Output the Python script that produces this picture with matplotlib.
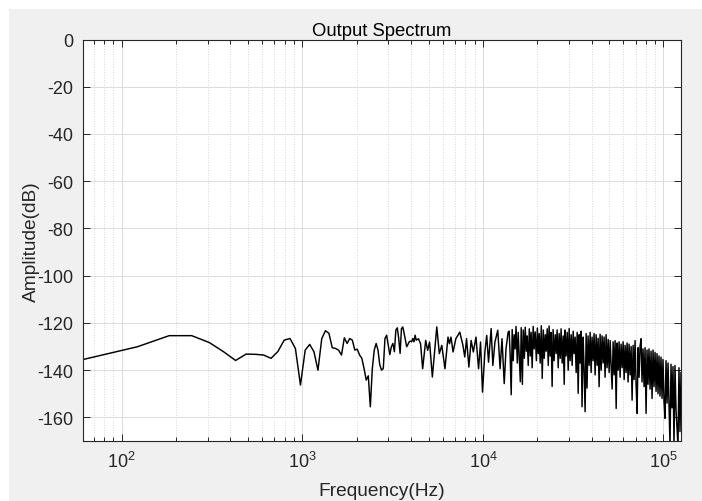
import numpy as np
import matplotlib
matplotlib.use("Agg")
import matplotlib.pyplot as plt
from matplotlib.patches import Rectangle
from matplotlib.ticker import LogLocator, NullFormatter, MultipleLocator

plt.rcParams['font.family'] = ['Liberation Sans', 'DejaVu Sans']
plt.rcParams['mathtext.fontset'] = 'custom'
plt.rcParams['mathtext.rm'] = 'Liberation Sans'
plt.rcParams['axes.unicode_minus'] = False

# FFT set-up: 4096 points at 250 kHz, so bin k sits at k * fs / nfft
fs = 250000.0
nfft = 4096

# bins 1..70, read point by point
bins_low = list(range(1, 71))
amp_low = [-135.5, -130.1, -125.4, -125.4, -128.3, -132.2, -135.9, -133.2, -133.3, -133.6,
           -135.0, -132.1, -127.3, -126.6, -130.8, -146.3, -131.5, -129.1, -132.2, -140.0,
           -126.6, -123.3, -124.4, -130.5, -130.8, -131.5, -133.6, -126.3, -128.7, -126.6,
           -127.3, -131.5, -131.1, -133.6, -135.0, -139.3, -144.2, -142.4, -155.5, -139.3,
           -131.5, -128.7, -131.5, -137.8, -140.0, -139.3, -126.6, -125.2, -129.4, -133.4,
           -130.1, -128.7, -132.2, -123.0, -122.1, -126.6, -132.9, -122.4, -121.7, -124.4,
           -127.3, -130.1, -129.1, -128.0, -127.7, -128.0, -126.6, -128.0, -125.2, -127.3]

# 4.4 kHz .. 14 kHz, turning points only
bins_mid = [72, 74, 76, 79, 81, 83, 86, 91, 94, 97, 101, 105, 107, 109, 112, 116, 122, 127,
            130, 133, 137, 141, 145, 150, 155, 159, 163, 168, 172, 176, 182, 186, 191, 198,
            204, 209, 215, 220, 226]
amp_mid = [-126.7, -128.8, -139.4, -127.4, -131.6, -128.1, -142.9, -121.7, -133.0, -129.5,
           -139.4, -126.0, -128.8, -126.0, -132.3, -126.7, -123.9, -129.5, -134.4, -126.7,
           -138.7, -127.4, -132.3, -126.0, -139.4, -128.1, -149.3, -132.3, -125.3, -136.6,
           -122.4, -138.0, -128.1, -123.1, -139.4, -126.7, -145.7, -130.9, -123.9]

# 14 kHz .. 125 kHz, peaks and troughs of the dense part
bins_high = [229, 232, 235, 238, 241, 244, 247, 250, 254, 257, 260, 264, 267, 271, 274, 278,
             281, 285, 288, 292, 296, 300, 303, 307, 311, 315, 319, 324, 328, 332, 336, 340,
             345, 349, 354, 358, 363, 367, 372, 377, 381, 386, 391, 396, 401, 406, 412, 417,
             422, 428, 433, 439, 444, 450, 456, 462, 467, 473, 480, 486, 492, 498, 505, 511,
             518, 524, 531, 538, 545, 552, 559, 566, 573, 580, 588, 595, 603, 611, 618, 626,
             635, 643, 651, 659, 668, 676, 685, 694, 703, 712, 721, 730, 740, 749, 759, 768,
             778, 788, 798, 809, 819, 830, 840, 851, 862, 873, 884, 896, 907, 919, 930, 942,
             954, 967, 979, 992, 1004, 1017, 1030, 1043, 1056, 1070, 1084, 1098, 1112, 1126,
             1140, 1155, 1170, 1185, 1200, 1215, 1231, 1246, 1262, 1279, 1295, 1312, 1328,
             1345, 1362, 1380, 1398, 1416, 1434, 1452, 1471, 1490, 1509, 1528, 1547, 1567,
             1587, 1608, 1628, 1649, 1670, 1692, 1714, 1736, 1758, 1780, 1803, 1826, 1850,
             1873, 1897, 1922, 1946, 1971, 1996, 2022, 2048]
amp_high = [-123.5, -134.0, -150.4, -122.8, -136.0, -125.0, -131.0, -121.5, -137.0, -124.0,
            -133.0, -144.9, -122.0, -146.0, -123.0, -135.0, -121.8, -132.0, -125.5, -138.0,
            -122.5, -134.0, -124.0, -139.0, -121.5, -131.0, -123.8, -136.0, -122.2, -133.0,
            -124.5, -137.0, -121.2, -143.5, -123.0, -135.0, -125.0, -132.0, -122.5, -138.0,
            -121.3, -134.0, -124.0, -146.9, -122.8, -136.0, -125.0, -133.0, -123.0, -139.0,
            -124.5, -135.0, -122.5, -137.0, -125.5, -146.0, -123.0, -134.0, -124.0, -140.0,
            -122.4, -136.0, -125.0, -138.0, -123.5, -133.0, -126.0, -141.0, -124.0, -149.8,
            -125.0, -137.0, -123.5, -155.5, -126.0, -139.0, -157.6, -124.5, -147.6, -125.5,
            -138.0, -124.0, -141.0, -126.0, -136.0, -124.5, -142.0, -125.0, -138.0, -126.5,
            -147.0, -124.8, -140.0, -125.5, -137.0, -126.0, -143.0, -125.0, -139.0, -127.0,
            -141.0, -127.5, -138.0, -148.0, -128.0, -142.0, -127.5, -156.2, -128.5, -140.0,
            -128.0, -143.0, -129.0, -139.0, -128.0, -144.0, -129.5, -141.0, -128.5, -145.0,
            -129.0, -142.0, -130.0, -152.7, -129.5, -144.0, -127.5, -146.0, -158.3, -130.5,
            -143.0, -130.0, -126.7, -145.0, -131.0, -147.0, -130.5, -158.3, -131.5, -146.0,
            -131.0, -148.0, -132.0, -152.0, -131.5, -147.0, -132.5, -149.0, -133.0, -150.0,
            -134.0, -151.0, -134.5, -152.0, -135.5, -153.0, -160.4, -136.0, -154.0, -137.0,
            -155.0, -172.0, -137.5, -156.0, -138.5, -172.0, -138.0, -157.0, -164.0, -172.0,
            -139.0, -166.0, -141.0]

bins = np.array(bins_low + bins_mid + bins_high)
amp = np.array(amp_low + amp_mid + amp_high)
freq = bins * fs / nfft

fig = plt.figure(figsize=(7.02, 5.02), dpi=100, facecolor='white')
fig.patches.append(Rectangle((9 / 702, 0), 1, 1 - 10 / 502, transform=fig.transFigure,
                             facecolor='#f0f0f0', edgecolor='none', zorder=-10))

ax = fig.add_axes([83 / 702, 60 / 502, 598 / 702, 401.5 / 502])
ax.set_facecolor('white')
ax.plot(freq, amp, color='black', linewidth=1.05)

ax.set_xscale('log')
ax.set_xlim(fs / nfft, fs / 2)
ax.set_ylim(-170, 0)
ax.yaxis.set_major_locator(MultipleLocator(20))
ax.xaxis.set_major_locator(LogLocator(base=10))
ax.xaxis.set_minor_locator(LogLocator(base=10, subs=np.arange(2, 10)))
ax.xaxis.set_minor_formatter(NullFormatter())

ax.grid(True, which='major', color='#dcdcdc', linewidth=0.7, linestyle='-')
ax.grid(True, which='minor', axis='x', color='#d6d6d6', linewidth=0.7, linestyle=':')
ax.set_axisbelow(True)

for sp in ax.spines.values():
    sp.set_color('#262626')
    sp.set_linewidth(0.8)
ax.tick_params(which='both', direction='in', top=True, right=True, colors='#262626',
               labelsize=13, width=0.7)
ax.tick_params(which='major', length=5)
ax.tick_params(which='minor', length=3)
ax.tick_params(axis='x', pad=7)
ax.tick_params(axis='y', pad=7)

ax.set_title('Output Spectrum', fontsize=13.3, color='black', pad=3)
ax.set_xlabel('Frequency(Hz)', fontsize=13.8, color='#262626', labelpad=8)
ax.set_ylabel('Amplitude(dB)', fontsize=13.8, color='#262626', labelpad=-2)

fig.savefig('out.png', dpi=100, facecolor=fig.get_facecolor())
